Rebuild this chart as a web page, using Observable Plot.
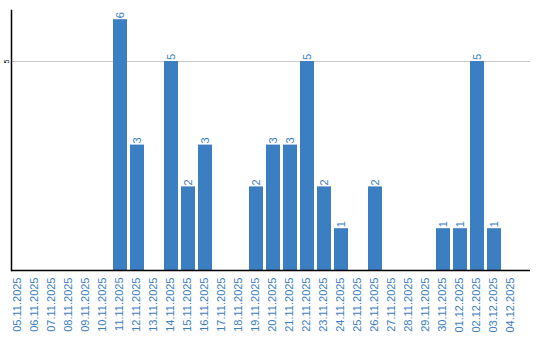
<!DOCTYPE html>
<html>
<head>
<meta charset="utf-8">
<script src="https://cdn.jsdelivr.net/npm/d3@7"></script>
<script src="https://cdn.jsdelivr.net/npm/@observablehq/plot@0.6"></script>
<style>
  html, body { margin: 0; padding: 0; background: #fff; overflow: hidden; }
  #chart svg { display: block; max-width: none !important; }
</style>
</head>
<body>
<div id="chart"></div>
<script>
const dates = ["05.11.2025","06.11.2025","07.11.2025","08.11.2025","09.11.2025","10.11.2025","11.11.2025","12.11.2025","13.11.2025","14.11.2025","15.11.2025","16.11.2025","17.11.2025","18.11.2025","19.11.2025","20.11.2025","21.11.2025","22.11.2025","23.11.2025","24.11.2025","25.11.2025","26.11.2025","27.11.2025","28.11.2025","29.11.2025","30.11.2025","01.12.2025","02.12.2025","03.12.2025","04.12.2025"];
const counts = [0,0,0,0,0,0,6,3,0,5,2,3,0,0,2,3,3,5,2,1,0,2,0,0,0,1,1,5,1,0];
const yTicks = [5];

const data = dates.map((d, i) => ({date: d, count: counts[i]}));
const bars = data.filter(d => d.count > 0);
const blue = "#3b7ec2";

const chart = Plot.plot({
  width: 540,
  height: 340,
  marginLeft: 11,
  marginRight: 10,
  marginTop: 10,
  marginBottom: 70,
  style: {background: "#fff", fontFamily: "'Liberation Sans', Arial, sans-serif"},
  x: {domain: dates, insetRight: 9, paddingInner: 0.176, paddingOuter: 0, align: 0, label: null},
  y: {domain: [0, 6.22], label: null},
  marks: [
    Plot.gridY(yTicks, {stroke: "#c8c8c8", strokeOpacity: 1, strokeWidth: 1}),
    Plot.barY(bars, {x: "date", y: "count", fill: blue}),
    Plot.text(bars, {x: "date", y: "count", text: d => String(d.count), rotate: -90, textAnchor: "start", dy: -1.5, fill: blue, fontSize: 11}),
    Plot.axisX({tickSize: 0, tickRotate: -90, fontSize: 11, fill: blue, tickPadding: 7, textAnchor: "end", dx: -1.5, label: null}),
    Plot.axisY(yTicks, {tickSize: 0, tickRotate: -90, fontSize: 7, tickPadding: 3, label: null, fill: "#000"}),
    Plot.ruleY([0], {stroke: "#000", strokeWidth: 1.5}),
    Plot.frame({anchor: "left", stroke: "#000", strokeWidth: 1.5})
  ]
});
document.getElementById("chart").appendChild(chart);
</script>
</body>
</html>
